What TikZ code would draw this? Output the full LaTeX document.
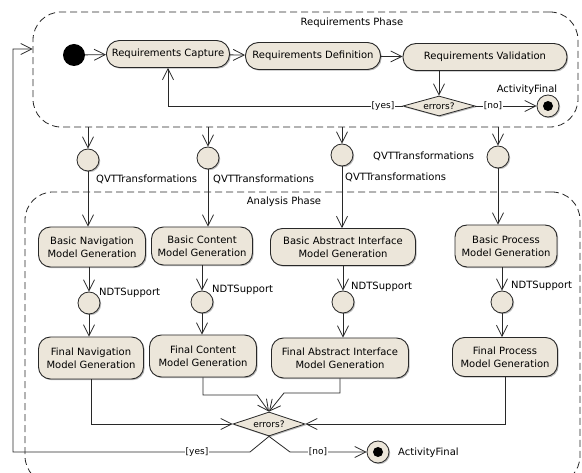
\documentclass[tikz,border=0pt]{standalone}
\usepackage{fontspec}
\setmainfont{DejaVu Sans}
\usetikzlibrary{arrows.meta,shapes.geometric,shadows}
\definecolor{beige}{RGB}{236,230,218}
\definecolor{edgec}{RGB}{40,40,40}
\begin{document}
\begin{tikzpicture}[x=1pt,y=-1pt,
  font=\fontsize{10}{13}\selectfont,
  shad/.style={drop shadow={shadow xshift=1.2pt, shadow yshift=-1.2pt, fill=black!45, opacity=0.6}},
  act/.style={draw=edgec, line width=0.9pt, fill=beige, rounded corners=12pt, align=center, inner sep=2pt, shad},
  obj/.style={circle, draw=edgec, line width=0.8pt, fill=beige, minimum size=22pt, inner sep=0pt, shad},
  dotnode/.style={circle, fill=black, inner sep=0pt},
  dec/.style={diamond, draw=edgec, line width=0.8pt, fill=beige, inner sep=0pt, aspect=3.5, minimum width=72pt, minimum height=20pt, font=\fontsize{9}{10}\selectfont, shad},
  flow/.style={draw=edgec, line width=0.8pt, -{Straight Barb[length=11pt,width=11pt]}},
  region/.style={draw=edgec, line width=0.8pt, dash pattern=on 7pt off 4pt, rounded corners=28pt, inner sep=0pt},
  lbl/.style={inner sep=1pt, fill=white, font=\fontsize{9}{10}\selectfont},
  txt/.style={inner sep=0pt, anchor=west},
]
\clip (0,0) rectangle (582,473);
\fill[white] (0,0) rectangle (582,473);

% regions
\node[region, minimum width=545pt, minimum height=115pt] (req) at (305.5,69.5) {};
\node[region, minimum width=555pt, minimum height=292pt] (ana) at (302.5,338) {};
\node (reqlbl) at (352,23) {Requirements Phase};
\node (analbl) at (284,202) {Analysis Phase};

% requirements phase
\node[dotnode, minimum size=22pt] (init) at (74,55) {};
\node[act, minimum width=123pt, minimum height=27pt, rounded corners=13pt] (cap) at (168,54) {Requirements Capture};
\node[act, minimum width=135pt, minimum height=27pt, rounded corners=13pt] (def) at (313,56) {Requirements Definition};
\node[act, minimum width=164pt, minimum height=27pt, rounded corners=13pt] (val) at (485,57) {Requirements Validation};
\node[dec] (d1) at (439,106) {errors?};
\node[obj] (f1) at (548,106) {};
\node[dotnode, minimum size=10pt] (f1dot) at (f1) {};
\node (f1lbl) at (527,90) {ActivityFinal};

\draw[flow] (init) -- (cap);
\draw[flow] (cap) -- (def);
\draw[flow] (def) -- (val);
\draw[flow] (val.south -| d1.north) -- (d1.north);
\draw[flow] (d1.west) -| (cap.south);
\node[lbl] (yes1) at (383,106) {[yes]};
\draw[flow] (d1.east) -- (f1);
\node[lbl] (no1) at (493,106) {[no]};

% QVT object nodes
\node[obj] (q1) at (88,160) {};
\node[obj] (q2) at (208,158) {};
\node[obj] (q3) at (342,155) {};
\node[obj] (q4) at (498,157) {};
\foreach \q in {q1,q2,q3,q4} { \draw[flow] (\q |- req.south) -- (\q); }
\node[txt] (ql1) at (96,179) {QVTTransformations};
\node[txt] (ql2) at (213,179) {QVTTransformations};
\node[txt] (ql3) at (345,177) {QVTTransformations};
\node[txt] (ql4) at (373,156) {QVTTransformations};

% basic models
\node[act, minimum width=107pt, minimum height=40pt] (bn) at (92,247) {Basic Navigation\\Model Generation};
\node[act, minimum width=101pt, minimum height=38pt] (bc) at (202,246) {Basic Content\\Model Generation};
\node[act, minimum width=145pt, minimum height=37pt] (ba) at (343,247) {Basic Abstract Interface\\Model Generation};
\node[act, minimum width=102pt, minimum height=42pt] (bp) at (506,246) {Basic Process\\Model Generation};
\draw[flow] (q1) -- (q1 |- bn.north);
\draw[flow] (q2) -- (q2 |- bc.north);
\draw[flow] (q3) -- (q3 |- ba.north);
\draw[flow] (q4) -- (q4 |- bp.north);

% NDT object nodes
\node[obj] (n1) at (89,303) {};
\node[obj] (n2) at (202,302) {};
\node[obj] (n3) at (343,302) {};
\node[obj] (n4) at (502,302) {};
\draw[flow] (n1 |- bn.south) -- (n1);
\draw[flow] (n2 |- bc.south) -- (n2);
\draw[flow] (n3 |- ba.south) -- (n3);
\draw[flow] (n4 |- bp.south) -- (n4);
\node[txt] (nl1) at (99,293) {NDTSupport};
\node[txt] (nl2) at (212,290) {NDTSupport};
\node[txt] (nl3) at (351,287) {NDTSupport};
\node[txt] (nl4) at (511,286) {NDTSupport};

% final models
\node[act, minimum width=105pt, minimum height=42pt] (fn) at (91,358) {Final Navigation\\Model Generation};
\node[act, minimum width=107pt, minimum height=42pt] (fc) at (203,356) {Final Content\\Model Generation};
\node[act, minimum width=137pt, minimum height=40pt] (fa) at (340,358) {Final Abstract Interface\\Model Generation};
\node[act, minimum width=105pt, minimum height=39pt] (fp) at (505,357) {Final Process\\Model Generation};
\draw[flow] (n1) -- (n1 |- fn.north);
\draw[flow] (n2) -- (n2 |- fc.north);
\draw[flow] (n3) -- (n3 |- fa.north);
\draw[flow] (n4) -- (n4 |- fp.north);

% analysis decision
\node[dec, minimum height=24pt] (d2) at (269,424) {errors?};
\coordinate (fcb) at (257,395);
\coordinate (fab) at (284,393);
\draw[flow] (fn.south) |- (d2.west);
\draw[flow] (fc.south) |- (fcb) -- (d2.north);
\draw[flow] (fa.south) |- (fab) -- (d2.north);
\draw[flow] (fp.south) |- (d2.east);

\node[obj] (f2) at (378,452) {};
\node[dotnode, minimum size=10pt] (f2dot) at (f2) {};
\node[txt] (f2lbl) at (398,453) {ActivityFinal};
\coordinate (nob) at (290,452);
\draw[flow] (d2.south) -- (nob) -- (f2);
\node[lbl] (no2) at (318,452) {[no]};

\coordinate (yb) at (250,452);
\coordinate (yl) at (13,452);
\coordinate (yt) at (13,49);
\draw[flow] (d2.south) -- (yb) -- (yl) -- (yt) -- (yt -| req.west);
\node[lbl] (yes2) at (197,452) {[yes]};
\end{tikzpicture}
\end{document}
